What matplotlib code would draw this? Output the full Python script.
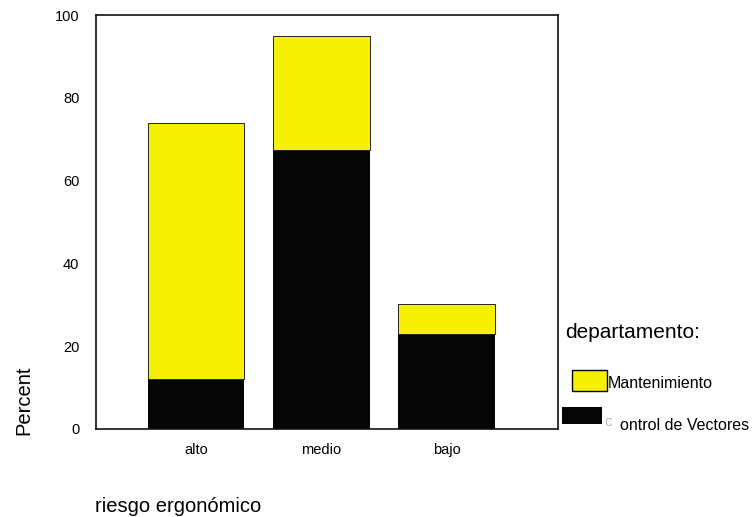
import matplotlib
matplotlib.use("Agg")
import matplotlib.pyplot as plt
from matplotlib.patches import Rectangle

categories = ["alto", "medio", "bajo"]
control_vectores = [12, 67.5, 23]
mantenimiento = [62, 27.5, 7.3]
yticks = [0, 20, 40, 60, 80, 100]

plt.rcParams['font.family'] = ['Liberation Sans', 'DejaVu Sans']

fig = plt.figure(figsize=(7.56, 5.17), dpi=100)
ax = fig.add_axes([96/756, 1-429/517, (558-96)/756, (429-15)/517])

x = list(range(len(categories)))
yellow = '#f4f000'
ax.bar(x, control_vectores, width=0.77, color='#050505', edgecolor='none')
ax.bar(x, mantenimiento, width=0.77, bottom=control_vectores, color=yellow,
       edgecolor='#222222', linewidth=0.7)

ax.set_xlim(-0.80, 2.89)
ax.set_ylim(0, 100)
ax.set_yticks(yticks)
ax.set_xticks(x)
ax.set_xticklabels(categories)
ax.tick_params(axis='both', length=0, labelsize=10.5)
ax.tick_params(axis='y', pad=12)
ax.tick_params(axis='x', pad=10)
for s in ax.spines.values():
    s.set_linewidth(1.2)
    s.set_color('#111111')

fig.text(24/756, 1-400/517, "Percent", rotation=90, ha='center', va='center', fontsize=14.5)
fig.text(95/756, 1-512/517, "riesgo ergonómico", ha='left', va='baseline', fontsize=14.5)

fig.text(565/756, 1-338/517, "departamento:", ha='left', va='baseline', fontsize=15)
fig.patches.append(Rectangle((572/756, 1-391/517), 35/756, 21/517, transform=fig.transFigure,
                             facecolor=yellow, edgecolor='black', linewidth=1.0))
fig.text(608/756, 1-388/517, "Mantenimiento", ha='left', va='baseline', fontsize=11.5)
fig.patches.append(Rectangle((562/756, 1-424/517), 40/756, 17/517, transform=fig.transFigure,
                             facecolor='#050505', edgecolor='none'))
fig.text(604/756, 1-426/517, "c", ha='left', va='baseline', fontsize=11, color='#bbbbbb')
fig.text(620/756, 1-430/517, "ontrol de Vectores", ha='left', va='baseline', fontsize=11.5)

fig.savefig("out.png", dpi=100)
